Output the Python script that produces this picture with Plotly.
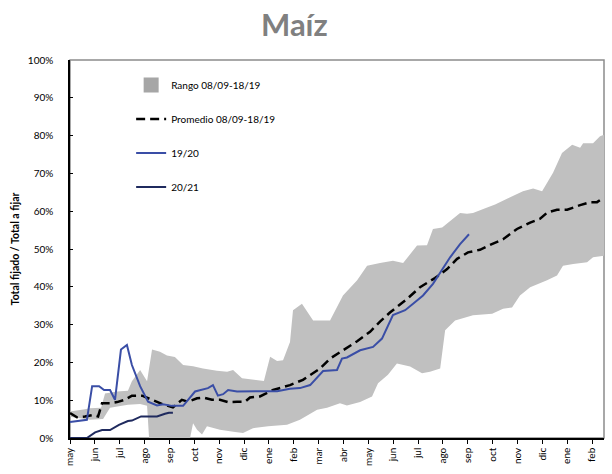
import plotly.graph_objects as go

# --- tick labels (months of the season, relative axis) ---
meses = ['may', 'jun', 'jul', 'ago', 'sep', 'oct', 'nov', 'dic', 'ene', 'feb', 'mar',
         'abr', 'may', 'jun', 'jul', 'ago', 'sep', 'oct', 'nov', 'dic', 'ene', 'feb']
y_ticks = list(range(0, 101, 10))
y_labels = [f"{v}%" for v in y_ticks]

# x values = months elapsed since start of season (may = 0)
# --- Rango 08/09-18/19 : upper bound ---
rango_sup_x = [0.0, 0.6, 0.8, 1.25, 1.41, 1.89, 2.33, 2.49, 2.82, 3.1, 3.3, 3.62, 3.9, 4.22,
               4.55, 4.95, 5.35, 5.91, 6.32, 6.56, 6.92, 7.8, 8.05, 8.33, 8.57, 8.85, 8.97,
               9.33, 9.78, 10.46, 10.98, 11.55, 11.95, 12.47, 12.99, 13.4, 13.96, 14.36,
               14.6, 14.97, 15.69, 15.97, 16.21, 16.78, 17.1, 17.62, 18.22, 18.63, 18.99,
               19.43, 19.79, 20.2, 20.52, 20.64, 21.04, 21.32, 21.48]
rango_sup = [7.0, 7.6, 7.9, 8.0, 11.8, 12.3, 12.5, 15.0, 18.0, 15.0, 23.4, 22.8, 21.8, 21.4,
             19.3, 19.0, 18.4, 17.8, 17.5, 18.0, 15.8, 15.1, 21.5, 20.4, 20.6, 25.4, 33.8,
             35.5, 31.1, 31.1, 37.7, 41.7, 45.6, 46.3, 46.9, 46.3, 50.9, 51.0,
             55.3, 55.7, 59.5, 59.3, 59.5, 61.0, 61.8, 63.4, 65.3, 66.0, 65.3,
             70.2, 75.4, 77.6, 76.8, 78.0, 78.0, 79.8, 80.2]

# --- Rango 08/09-18/19 : lower bound ---
rango_inf_x = [0.0, 0.6, 0.8, 1.33, 1.61, 2.33, 2.82, 3.1, 3.18, 4.83, 4.95, 5.11, 5.31, 5.51,
               6.03, 6.64, 6.96, 7.36, 7.97, 8.73, 9.25, 9.94, 10.34, 10.86, 11.14, 11.67,
               12.15, 12.39, 12.79, 13.15, 13.68, 14.16, 14.48, 14.89, 15.09, 15.49, 16.21,
               16.98, 17.42, 17.78, 18.1, 18.51, 19.19, 19.59, 19.83, 20.24, 20.8, 21.04, 21.48]
rango_inf = [5.6, 5.0, 4.8, 5.0, 8.0, 8.8, 9.0, 8.5, 0.0, 0.0, 3.9, 2.2, 0.9, 3.1,
             2.2, 1.6, 1.3, 2.6, 3.1, 3.5, 4.8, 7.5, 8.0, 9.2, 8.6, 9.5,
             11.0, 14.5, 16.7, 19.7, 18.9, 17.1, 17.5, 18.4, 28.5, 31.1, 32.5,
             32.9, 34.2, 34.5, 37.7, 39.9, 41.7, 43.0, 45.6, 46.0, 46.5, 47.8, 48.2]

# --- Promedio 08/09-18/19 ---
prom_x = [0.0, 0.28, 0.6, 0.93, 1.13, 1.29, 1.61, 1.89, 2.21, 2.49, 2.9, 3.3, 3.74, 4.14,
          4.5, 4.75, 5.11, 5.35, 5.71, 6.03, 6.36, 6.72, 7.04, 7.24, 7.64, 8.17, 8.85, 9.37,
          10.06, 10.46, 10.98, 11.55, 12.07, 12.47, 12.87, 13.56, 14.08, 14.68, 15.17, 15.57,
          16.01, 16.49, 16.9, 17.42, 17.98, 18.51, 18.91, 19.19, 19.59, 20.0, 20.52, 20.92,
          21.2, 21.48]
prom = [6.6, 5.5, 5.7, 6.1, 5.7, 9.2, 9.2, 9.5, 10.1, 11.2, 11.2, 10.1, 8.9, 8.1,
        10.1, 9.6, 10.5, 10.7, 10.1, 10.1, 9.5, 9.6, 9.6, 10.7, 11.0, 12.7, 14.0, 15.4,
        18.4, 21.0, 23.2, 25.6, 28.1, 30.8, 33.2, 36.8, 39.9, 42.3, 44.7, 47.4,
        49.1, 49.8, 51.1, 52.6, 55.3, 57.0, 58.0, 59.6, 60.4, 60.4, 61.6, 62.4,
        62.4, 63.6]

# --- Campaña 19/20 ---
c1920_x = [0.0, 0.32, 0.68, 0.89, 1.17, 1.37, 1.61, 1.81, 2.05, 2.29, 2.49, 2.82, 3.14, 3.5,
           3.74, 4.1, 4.55, 5.03, 5.31, 5.55, 5.75, 5.95, 6.16, 6.36, 6.72, 7.64, 8.33, 8.85,
           9.25, 9.66, 10.18, 10.74, 10.94, 11.14, 11.67, 12.19, 12.55, 12.99, 13.48, 13.8,
           14.2, 14.6, 14.89, 15.29, 15.69, 16.05]
c1920 = [4.2, 4.5, 4.8, 13.7, 13.7, 12.7, 12.7, 10.1, 23.4, 24.6, 19.3, 13.7, 9.6, 8.6,
         8.9, 8.5, 8.5, 12.3, 12.7, 13.2, 14.0, 11.2, 11.6, 12.7, 12.3, 12.3, 12.4, 13.0,
         13.2, 14.0, 17.7, 18.0, 21.0, 21.3, 23.2, 24.1, 26.3, 32.5, 33.8, 35.5,
         37.7, 40.8, 43.9, 47.8, 51.3, 53.9]

# --- Campaña 20/21 ---
c2021_x = [0.0, 0.68, 1.01, 1.29, 1.61, 1.97, 2.33, 2.49, 2.86, 3.14, 3.5, 3.82, 3.98, 4.14]
c2021 = [0.0, 0.0, 1.5, 2.1, 2.1, 3.5, 4.5, 4.6, 5.7, 5.7, 5.7, 6.4, 6.7, 6.7]

FONT = "Lato"
GRIS = "#C0C0C0"

fig = go.Figure()

# Range band (polygon upper -> reversed lower)
fig.add_trace(go.Scatter(
    x=rango_sup_x + rango_inf_x[::-1],
    y=rango_sup + rango_inf[::-1],
    fill="toself", fillcolor=GRIS, mode="none",
    name="Rango 08/09-18/19", showlegend=False, hoverinfo="skip"))
# legend entry for the range (square swatch)
fig.add_trace(go.Scatter(
    x=[None], y=[None], mode="markers",
    marker=dict(symbol="square", size=15, color="#A6A6A6"),
    name="Rango 08/09-18/19", legendgroup="a"))
fig.add_trace(go.Scatter(
    x=prom_x, y=prom, mode="lines",
    line=dict(color="black", width=2.5, dash="9px,5px"),
    name="Promedio 08/09-18/19", legendgroup="b"))
fig.add_trace(go.Scatter(
    x=c1920_x, y=c1920, mode="lines",
    line=dict(color="#3A4EA6", width=2),
    name="19/20", legendgroup="c"))
fig.add_trace(go.Scatter(
    x=c2021_x, y=c2021, mode="lines",
    line=dict(color="#1F2A5E", width=2),
    name="20/21", legendgroup="d"))

fig.update_layout(
    width=612, height=474,
    margin=dict(l=70, r=8, t=60, b=34),
    paper_bgcolor="white", plot_bgcolor="white",
    font=dict(family=FONT, size=10, color="black"),
    legend=dict(x=0.1145, y=0.972, xanchor="left", yanchor="top",
                bgcolor="rgba(0,0,0,0)", tracegroupgap=15,
                font=dict(family=FONT, size=10, color="black")),
    shapes=[dict(type="rect", xref="paper", yref="paper", x0=0, x1=1, y0=0, y1=1,
                 line=dict(color="#8C8C8C", width=1.5), layer="below")],
    annotations=[dict(text="<b>Maíz</b>", xref="paper", yref="paper",
                      x=0.4195, y=1.095, xanchor="center", yanchor="middle",
                      showarrow=False,
                      font=dict(family=FONT, size=31, color="#808080"))],
)

fig.update_xaxes(
    range=[0, 21.48], tickmode="array", tickvals=list(range(len(meses))), ticktext=meses,
    tickangle=-90, ticks="outside", ticklen=4, tickcolor="black",
    showline=True, linecolor="black", linewidth=1.5, showgrid=False, zeroline=False,
    tickfont=dict(family=FONT, size=10, color="black"))
fig.update_yaxes(
    range=[0, 100], tickmode="array", tickvals=y_ticks, ticktext=y_labels,
    ticks="inside", ticklen=3, tickcolor="black", ticklabelstandoff=13,
    showline=True, linecolor="black", linewidth=1.5, showgrid=False, zeroline=False,
    title=dict(text="<b>Total fijado / Total a fijar</b>", standoff=6,
               font=dict(family=FONT, size=10.5, color="black")),
    tickfont=dict(family=FONT, size=10, color="black"))

# remove the default 8px page margin so the figure fills the 612x474 window exactly
fig.write_html("out.html", config={"displayModeBar": False},
               post_script="document.body.style.margin='0';")
